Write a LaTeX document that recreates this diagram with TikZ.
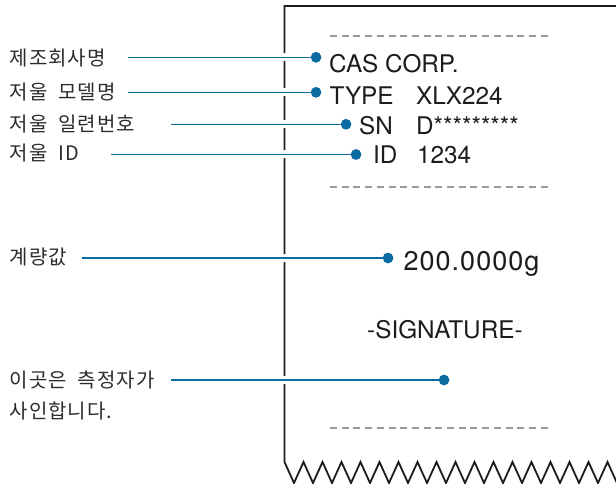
\documentclass[tikz,border=0pt]{standalone}
\usepackage{fontspec}
\setmainfont{TeX Gyre Heros}
\newfontfamily\kr{Noto Sans CJK KR}
\definecolor{lblue}{HTML}{0A6CA0}
\definecolor{ink}{HTML}{1E1B1C}
\definecolor{krgray}{HTML}{2C2C2C}
\definecolor{dashgray}{HTML}{9A9A9A}
\def\trk#1#2{\def\trkk{#1}\trkA#2\relax}
\def\trkA#1{\ifx#1\relax\else\ifx#1|\hskip10pt\else#1\kern\trkk pt\fi\expandafter\trkA\fi}
\tikzset{
  paper/.style={draw=ink, line width=1.8pt, line join=miter},
  dashline/.style={draw=dashgray, line width=1.3pt, dash pattern=on 7pt off 4.7pt},
  krlab/.style={anchor=base west, inner sep=0pt, text=krgray, font=\kr\fontsize{20}{24}\selectfont},
  rtext/.style={anchor=base west, inner sep=0pt, text=ink, font=\fontsize{24.3}{28}\selectfont},
  dot/.style={circle, fill=lblue, inner sep=0pt, minimum size=10.5pt},
  leader/.style={draw=lblue, line width=1.5pt, preaction={draw=white, line width=8pt}},
}
\begin{document}
\begin{tikzpicture}[x=1pt,y=-1pt]
\useasboundingbox (0,0) rectangle (616,484);
\clip (0,0) rectangle (616,484);
% paper
\draw[paper] (625,6) -- (284.5,6) -- (284.5,462)
  \foreach \i in {0,...,17}{ -- ({284.5+19*\i+9.5},483) -- ({284.5+19*\i+19},462) };
% dashed separators
\draw[dashline] (330,36) -- (552,36);
\draw[dashline] (330,187) -- (552,187);
\draw[dashline] (330,428) -- (552,428);
% receipt texts
\node[rtext] (t1) at (329,72.3) {CAS CORP.};
\node[rtext] (t2) at (329.5,105) {TYPE};
\node[rtext] (t2v) at (416,105) {XLX224};
\node[rtext] (t3) at (359,135) {SN};
\node[rtext] (t3v) at (416,135) {D*********};
\node[rtext] (t4) at (373,164) {ID};
\node[rtext] (t4v) at (417,164) {1234};
\node[rtext, font=\fontsize{27}{30}\selectfont] (t5) at (403.5,270.5) {\trk{1}{200.0000g}};
\node[rtext] (t6) at (367,338.3) {-SIGNATURE-};
% Korean labels
\node[krlab] (l1) at (9.5,65.3) {\trk{1}{제조회사명}};
\node[krlab] (l2) at (9.5,99.3) {\trk{1}{저울|모델명}};
\node[krlab] (l3) at (9.5,131.8) {\trk{1}{저울|일련번호}};
\node[krlab] (l4) at (9.5,160.8) {\trk{1}{저울|ID}};
\node[krlab] (l5) at (9.5,264.8) {\trk{1}{계량값}};
\node[krlab] (l6) at (9.5,387.8) {\trk{1}{이곳은|측정자가}};
\node[krlab] (l7) at (9.5,418.3) {\trk{1}{사인합니다.}};
% dots
\node[dot] (d1) at (316,57.3) {};
\node[dot] (d2) at (316,92.3) {};
\node[dot] (d3) at (346,124.3) {};
\node[dot] (d4) at (356,154.5) {};
\node[dot] (d5) at (388,258) {};
\node[dot] (d6) at (444,380) {};
% leader starts
\coordinate (s1) at (128,57.3);
\coordinate (s2) at (128,92.3);
\coordinate (s3) at (171,124.3);
\coordinate (s4) at (111,154.5);
\coordinate (s5) at (82,258);
\coordinate (s6) at (171,380);
\foreach \k in {1,...,6}{ \draw[leader] (s\k) -- (d\k.center); }
\foreach \k in {1,...,6}{ \node[dot] at (d\k) {}; }
\end{tikzpicture}
\end{document}
